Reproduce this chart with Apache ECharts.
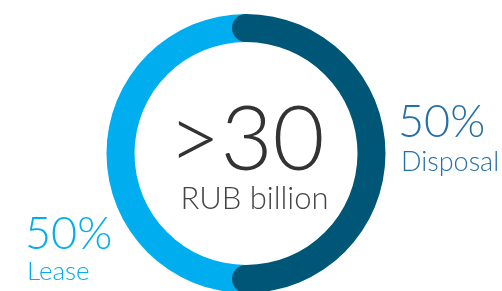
<!DOCTYPE html>
<html>
<head>
<meta charset="utf-8">
<script src="https://cdn.jsdelivr.net/npm/echarts@6/dist/echarts.min.js"></script>
<style>
html, body { margin: 0; padding: 0; background: #fff; }
#main { width: 502px; height: 291px; }
</style>
</head>
<body>
<div id="main"></div>
<script>
var categories = ["Disposal", "Lease"];
var shares = [50, 50];
var colors = ["#005677", "#00aeef"];
var labelColors = ["#2670a6", "#00aeef"];
var centerValue = ">30";
var centerUnit = "RUB billion";

var total = shares[0] + shares[1];
var myChart = echarts.init(document.getElementById("main"));

myChart.setOption({
  animation: false,
  polar: {
    center: [246, 153.5],
    radius: [111.5, 139.5]
  },
  angleAxis: {
    type: "value",
    min: 0,
    max: total,
    startAngle: 90,
    clockwise: true,
    show: false
  },
  radiusAxis: {
    type: "category",
    data: ["share"],
    show: false
  },
  series: [
    {
      name: categories[0],
      type: "bar",
      coordinateSystem: "polar",
      stack: "s",
      barWidth: 28,
      roundCap: true,
      z: 3,
      data: [shares[0]],
      itemStyle: { color: colors[0] }
    },
    {
      name: categories[1],
      type: "bar",
      coordinateSystem: "polar",
      stack: "s",
      barWidth: 28,
      z: 2,
      data: [shares[1]],
      itemStyle: { color: colors[1] }
    }
  ],
  graphic: [
    {
      type: "text",
      style: {
        x: 246.5, y: 141, text: centerValue,
        font: "300 90px Lato", fill: "#333333",
        align: "center", verticalAlign: "middle"
      }
    },
    {
      type: "text",
      style: {
        x: 254.5, y: 199, text: centerUnit,
        font: "300 31px Lato", fill: "#444444",
        align: "center", verticalAlign: "middle"
      }
    },
    {
      type: "text",
      style: {
        x: 398, y: 122, text: shares[0] + "%",
        font: "300 45px Lato", fill: labelColors[0],
        align: "left", verticalAlign: "middle"
      }
    },
    {
      type: "text",
      style: {
        x: 401, y: 162, text: categories[0],
        font: "300 27px Lato", fill: labelColors[0],
        align: "left", verticalAlign: "middle"
      }
    },
    {
      type: "text",
      style: {
        x: 25, y: 234, text: shares[1] + "%",
        font: "300 45px Lato", fill: labelColors[1],
        align: "left", verticalAlign: "middle"
      }
    },
    {
      type: "text",
      style: {
        x: 27, y: 271.5, text: categories[1],
        font: "300 26px Lato", fill: labelColors[1],
        align: "left", verticalAlign: "middle"
      }
    }
  ]
});
</script>
</body>
</html>
